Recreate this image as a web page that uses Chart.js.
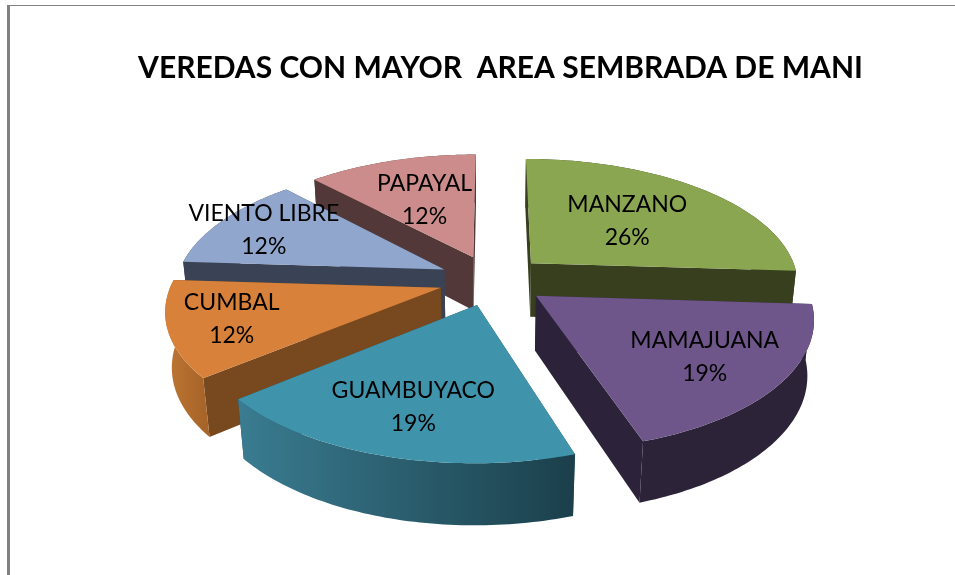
<!DOCTYPE html>
<html>
<head>
<meta charset="utf-8">
<style>html,body{margin:0;padding:0;background:#fff}canvas{display:block}</style>
<script src="https://cdn.jsdelivr.net/npm/chart.js@4"></script>
</head>
<body>
<canvas id="c" width="955" height="575"></canvas>
<script>
const titleText = "VEREDAS CON MAYOR  AREA SEMBRADA DE MANI";
const categories = ["MANZANO", "MAMAJUANA", "GUAMBUYACO", "CUMBAL", "VIENTO LIBRE", "PAPAYAL"];
const values = [26, 19, 19, 12, 12, 12];

const topColors = ["#8BA650", "#6E568A", "#3F94AC", "#D8813A", "#90A6CC", "#CC8C8C"];
const sideColors = ["#373F1E", "#2C233A", "#25505E", "#78491F", "#3A4355", "#523838"];
const wallLeft = ["#373F1E", "#2D2339", "#3A7C91", "#BE7633", "#3A4355", "#523838"];
const wallRight = ["#373F1E", "#2D2339", "#1B3F4B", "#A86529", "#3A4355", "#523838"];
const labelRadius = [0.74, 0.91, 0.91, 0.97, 1.0, 0.76];

// Perspective camera of the 3-D pie (ground plane to screen)
const cam = { cx: 492.5, cy: 280, ax: 269.5, bz: 125.8, persp: 0.156, drop: 55.5, far: 0.02, explode: 0.2, rim: 0.995 };

function project(X, Z, lower) {
  const w = 1 - cam.persp * Z + (lower ? cam.far : 0);
  return [cam.cx + cam.ax * X / w, cam.cy + (cam.bz * Z + (lower ? cam.drop : 0)) / w];
}
function poly(ctx, pts, fill) {
  ctx.beginPath();
  pts.forEach((p, i) => i ? ctx.lineTo(p[0], p[1]) : ctx.moveTo(p[0], p[1]));
  ctx.closePath();
  ctx.fillStyle = fill;
  ctx.fill();
}

const pie3d = {
  id: "pie3d",
  beforeDraw(chart) {
    const ctx = chart.ctx;
    ctx.save();
    ctx.fillStyle = "#808080";
    ctx.fillRect(7, 5, 948, 1);
    ctx.fillRect(7, 5, 3, 570);
    ctx.restore();
  },
  beforeDatasetDraw(chart, args) {
    const ctx = chart.ctx;
    const meta = args.meta;
    const order = meta.data.map((el, i) => {
      const mid = (el.startAngle + el.endAngle) / 2;
      return { el, i, mid };
    }).sort((a, b) => Math.sin(a.mid) - Math.sin(b.mid));

    ctx.save();
    order.forEach(({ el, i, mid }) => {
      const ox = cam.explode * Math.cos(mid), oz = cam.explode * Math.sin(mid);
      const steps = 64;
      const ring = [];
      for (let s = 0; s <= steps; s++) {
        const t = el.startAngle + (el.endAngle - el.startAngle) * s / steps;
        ring.push([ox + cam.rim * Math.cos(t), oz + cam.rim * Math.sin(t)]);
      }
      const up = ring.map(p => project(p[0], p[1], false));
      const low = ring.map(p => project(p[0], p[1], true));
      const apexU = project(ox, oz, false), apexL = project(ox, oz, true);

      // radial walls, farther one first
      const walls = [0, steps].sort((a, b) => ring[a][1] - ring[b][1]);
      walls.forEach(k => poly(ctx, [apexU, up[k], low[k], apexL], sideColors[i]));

      // outer curved wall
      const xs = up.map(p => p[0]);
      const grad = ctx.createLinearGradient(Math.min(...xs), 0, Math.max(...xs), 0);
      grad.addColorStop(0, wallLeft[i]);
      grad.addColorStop(1, wallRight[i]);
      poly(ctx, up.concat(low.slice().reverse()), grad);

      // top face
      poly(ctx, [apexU].concat(up), el.options.backgroundColor);
    });

    // data labels
    const total = values.reduce((a, b) => a + b, 0);
    ctx.fillStyle = "#000";
    ctx.font = "23px Lato";
    ctx.textAlign = "center";
    ctx.textBaseline = "middle";
    meta.data.forEach((el, i) => {
      const mid = (el.startAngle + el.endAngle) / 2;
      const r = labelRadius[i];
      const p = project(r * Math.cos(mid), r * Math.sin(mid), false);
      ctx.fillText(categories[i], p[0], p[1] - 16.5);
      ctx.fillText(Math.round(values[i] / total * 100) + "%", p[0], p[1] + 16.5);
    });
    ctx.restore();
    return false;
  }
};

new Chart(document.getElementById("c"), {
  type: "pie",
  data: {
    labels: categories,
    datasets: [{ data: values, backgroundColor: topColors, borderWidth: 0 }]
  },
  options: {
    responsive: false,
    animation: false,
    events: [],
    layout: { padding: { left: 46 } },
    plugins: {
      legend: { display: false },
      tooltip: { enabled: false },
      title: {
        display: true,
        text: titleText,
        color: "#000",
        font: { family: "Lato", size: 30, weight: "bold" },
        padding: { top: 50, bottom: 10 }
      }
    }
  },
  plugins: [pie3d]
});
</script>
</body>
</html>
